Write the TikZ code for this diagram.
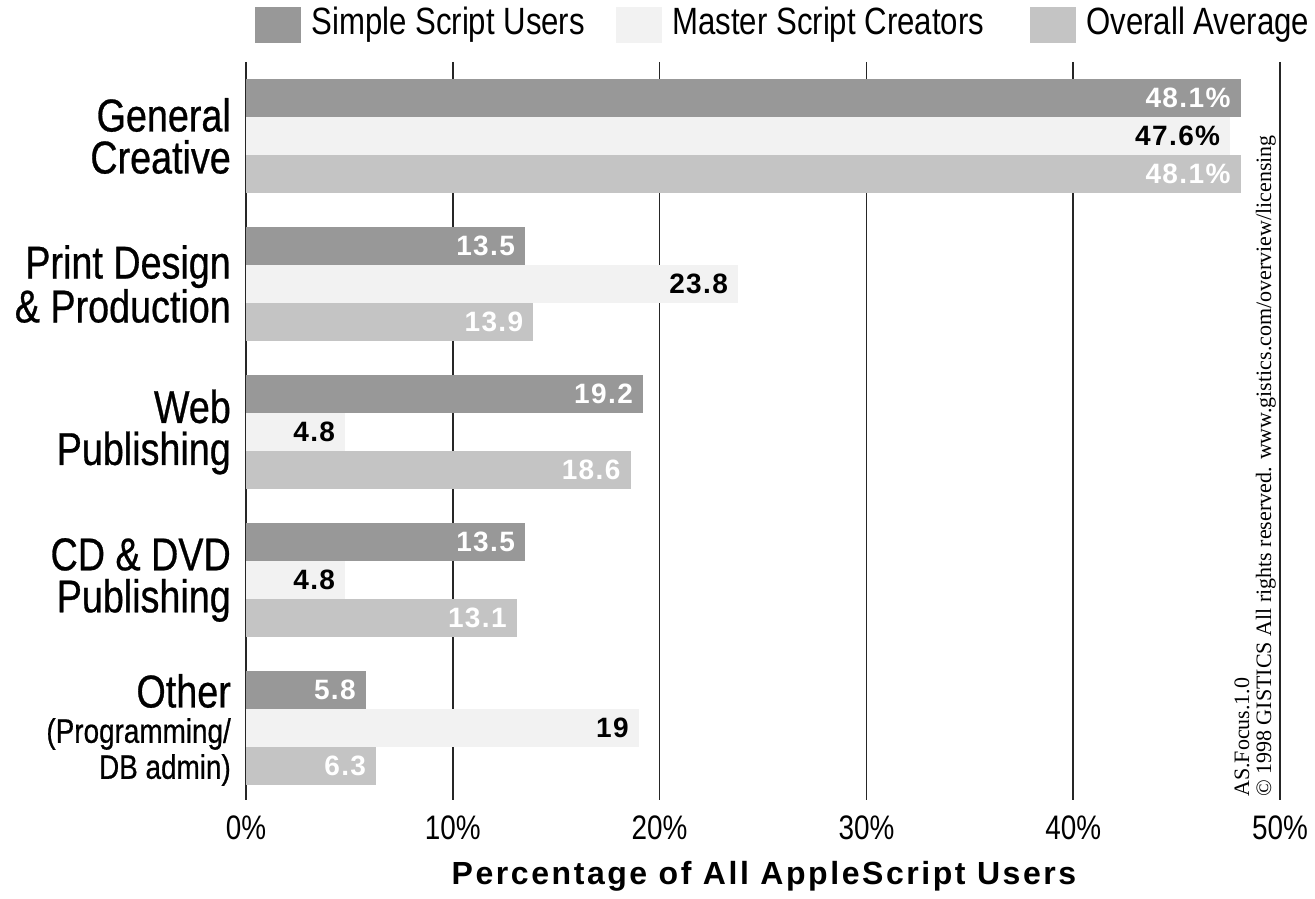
\documentclass[tikz,border=0pt]{standalone}
\usepackage{fontspec}
\setmainfont{Liberation Sans}
\newfontfamily\condfont[FakeStretch=0.82]{Liberation Sans}
\newfontfamily\catfont[FakeStretch=0.82,FakeBold=0.6]{Liberation Sans}
\newfontfamily\valfont[LetterSpace=5]{Liberation Sans}
\newfontfamily\titlefont[LetterSpace=8]{Liberation Sans}
\newfontfamily\notefont{Liberation Serif}
\usetikzlibrary{positioning}
\definecolor{simplegray}{HTML}{989898}
\definecolor{mastergray}{HTML}{F2F2F2}
\definecolor{overallgray}{HTML}{C4C4C4}

\begin{document}
\begin{tikzpicture}
[x=1pt,y=-1pt,
gridline/.style={draw=black!85,line width=1.6pt},
catlabel/.style={anchor=east,align=right,inner sep=0pt,font=\catfont\fontsize{46}{42}\selectfont},
sublabel/.style={anchor=east,align=right,inner sep=0pt,font=\catfont\fontsize{34}{36}\selectfont},
ticklabel/.style={font=\condfont\fontsize{34}{36}\selectfont},
vallabel/.style={anchor=east,inner sep=0pt,font=\valfont\bfseries\fontsize{28}{30}\selectfont},
legendbox/.style={minimum width=46pt,minimum height=36pt,inner sep=0pt},
legendtext/.style={anchor=west,inner sep=0pt,font=\condfont\fontsize{38}{40}\selectfont}]
\useasboundingbox (0,0) rectangle (1315,899);

% grid and axis
\foreach \p/\t in {0/0,1/10,2/20,3/30,4/40,5/50}{
  \draw[gridline] (246+206.8*\p,62) -- (246+206.8*\p,800);
  \node[ticklabel] (tick\p) at (246+206.8*\p,828) {\t\%};
}
\node[font=\titlefont\bfseries\fontsize{32}{34}\selectfont] (xtitle) at (764,876) {Percentage of All AppleScript Users};

% bars
\foreach \g/\a/\b/\c/\la/\lb/\lc in {0/48.1/47.6/48.1/48.1\%/47.6\%/48.1\%,
    1/13.5/23.8/13.9/13.5/23.8/13.9, 2/19.2/4.8/18.6/19.2/4.8/18.6,
    3/13.5/4.8/13.1/13.5/4.8/13.1, 4/5.8/19/6.3/5.8/19/6.3}{
  \pgfmathsetmacro\ya{79+148*\g}
  \fill[simplegray] (246,\ya) rectangle (246+20.68*\a,\ya+38);
  \fill[mastergray] (246,\ya+38) rectangle (246+20.68*\b,\ya+76);
  \fill[overallgray] (246,\ya+76) rectangle (246+20.68*\c,\ya+114);
  \node[vallabel,text=white] (simple\g) at (236+20.68*\a,\ya+19) {\la};
  \node[vallabel] (master\g) at (236+20.68*\b,\ya+57) {\lb};
  \node[vallabel,text=white] (overall\g) at (236+20.68*\c,\ya+95) {\lc};
}

% categories
\node[catlabel] (general) at (231,136) {General\\Creative};
\node[catlabel] (print) at (231,284) {Print Design\\\& Production};
\node[catlabel] (web) at (231,432) {Web\\Publishing};
\node[catlabel] (cddvd) at (231,580) {CD \& DVD\\Publishing};
\node[catlabel] (other) at (231,691) {Other};
\node[sublabel] (otherdetail) at (231,752) {(Programming/\\DB admin)};

% legend
\node[legendbox,fill=simplegray] (keysimple) at (278,25) {};
\node[legendtext,right=10pt of keysimple] (txtsimple) {Simple Script Users};
\node[legendbox,fill=mastergray] (keymaster) at (639,25) {};
\node[legendtext,right=10pt of keymaster] (txtmaster) {Master Script Creators};
\node[legendbox,fill=overallgray] (keyoverall) at (1053,25) {};
\node[legendtext,right=10pt of keyoverall] (txtoverall) {Overall Average};

\node[rotate=90,anchor=south west,align=left,inner sep=0pt,font=\notefont\fontsize{22}{22}\selectfont] (note) at (1276,797) {AS.Focus.1.0\\© 1998 GISTICS All rights reserved. www.gistics.com/overview/licensing};
\end{tikzpicture}
\end{document}
